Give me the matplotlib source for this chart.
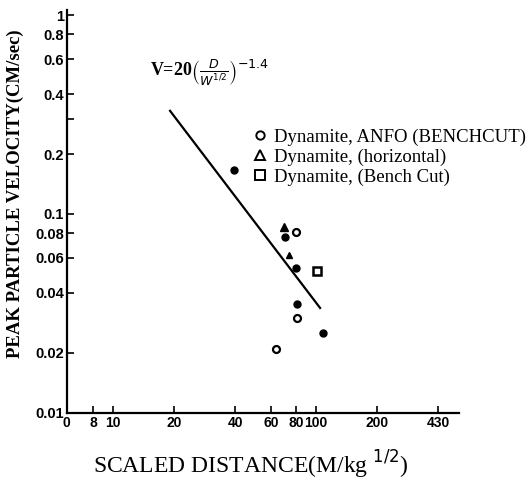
import matplotlib
matplotlib.use("Agg")
import matplotlib.pyplot as plt
from matplotlib.lines import Line2D

# ---- data ----
filled_x = [39.6, 70.3, 79.6, 80.4, 108.7]
filled_y = [0.166, 0.0769, 0.0537, 0.0353, 0.0251]
open_x = [79.6, 81.0, 63.5]
open_y = [0.081, 0.0299, 0.021]
tri_x = [69.4]
tri_y = [0.0858]
hook_x = [73.8]
hook_y = [0.0622]
sq_x = [101.2]
sq_y = [0.0513]
fit_x = [19.1, 104.8]
fit_y = [0.330, 0.0336]

xticks = [5.9, 8, 10, 20, 40, 60, 80, 100, 200, 400]
xtick_labels = ["0", "8", "10", "20", "40", "60", "80", "100", "200", "430"]
yticks = [0.01, 0.02, 0.04, 0.06, 0.08, 0.1, 0.2, 0.3, 0.4, 0.6, 0.8, 1]
ytick_labels = ["0.01", "0.02", "0.04", "0.06", "0.08", "0.1", "0.2", "", "0.4", "0.6", "0.8", "1"]
legend_labels = ["Dynamite, ANFO (BENCHCUT)", "Dynamite, (horizontal)", "Dynamite, (Bench Cut)"]

fig = plt.figure(figsize=(5.28, 4.83), dpi=100)
ax = fig.add_axes([0.126, 0.145, 0.743, 0.834])
ax.set_xscale("log")
ax.set_yscale("log")
ax.set_xlim(5.9, 506)
ax.set_ylim(0.00995, 1.06)

ax.plot(fit_x, fit_y, color="black", lw=1.6)
ax.plot(filled_x, filled_y, "o", color="black", ms=5, ls="none")
ax.plot(open_x, open_y, "o", mfc="white", mec="black", mew=1.6, ms=5, ls="none")
ax.plot(tri_x, tri_y, "^", color="black", ms=5.5, ls="none")
ax.plot(hook_x, hook_y, "^", color="black", ms=4, ls="none")
ax.plot(sq_x, sq_y, "s", mfc="white", mec="black", mew=1.8, ms=5.5, ls="none")

for s in ["top", "right"]:
    ax.spines[s].set_visible(False)
for s in ["left", "bottom"]:
    ax.spines[s].set_linewidth(1.6)

ax.minorticks_off()
ax.set_xticks(xticks)
ax.set_xticklabels(xtick_labels, fontsize=10, fontweight="bold", family="Liberation Sans")
ax.set_yticks(yticks)
ax.set_yticklabels(ytick_labels, fontsize=10.5, fontweight="bold", family="Liberation Sans")
ax.tick_params(axis="both", direction="in", length=5, width=1.2, pad=2)

ax.set_xlabel("SCALED DISTANCE(M/kg $^{1/2}$)", fontsize=17, family="Liberation Serif",
              va="center")
ax.xaxis.set_label_coords(0.47, -0.13)
ax.set_ylabel("PEAK PARTICLE VELOCITY(CM/sec)", fontsize=13.5, family="Liberation Serif",
              fontweight="bold")
ax.yaxis.set_label_coords(-0.108, 0.545)

ax.text(30, 0.51, r"V=20$\left(\frac{D}{W^{1/2}}\right)^{-1.4}$", fontsize=13,
        ha="center", va="center", family="Liberation Serif", fontweight="bold")

handles = [
    Line2D([], [], marker="o", ls="none", mfc="white", mec="black", mew=1.4, ms=6),
    Line2D([], [], marker="^", ls="none", mfc="white", mec="black", mew=1.4, ms=7),
    Line2D([], [], marker="s", ls="none", mfc="white", mec="black", mew=1.4, ms=7),
]
leg = ax.legend(handles, legend_labels, loc="upper left", bbox_to_anchor=(0.455, 0.725),
                frameon=False, handlelength=0.8, handletextpad=0.35, labelspacing=0.15,
                borderaxespad=0, prop={"family": "Liberation Serif", "size": 13.5})

fig.savefig("out.png", dpi=100)
